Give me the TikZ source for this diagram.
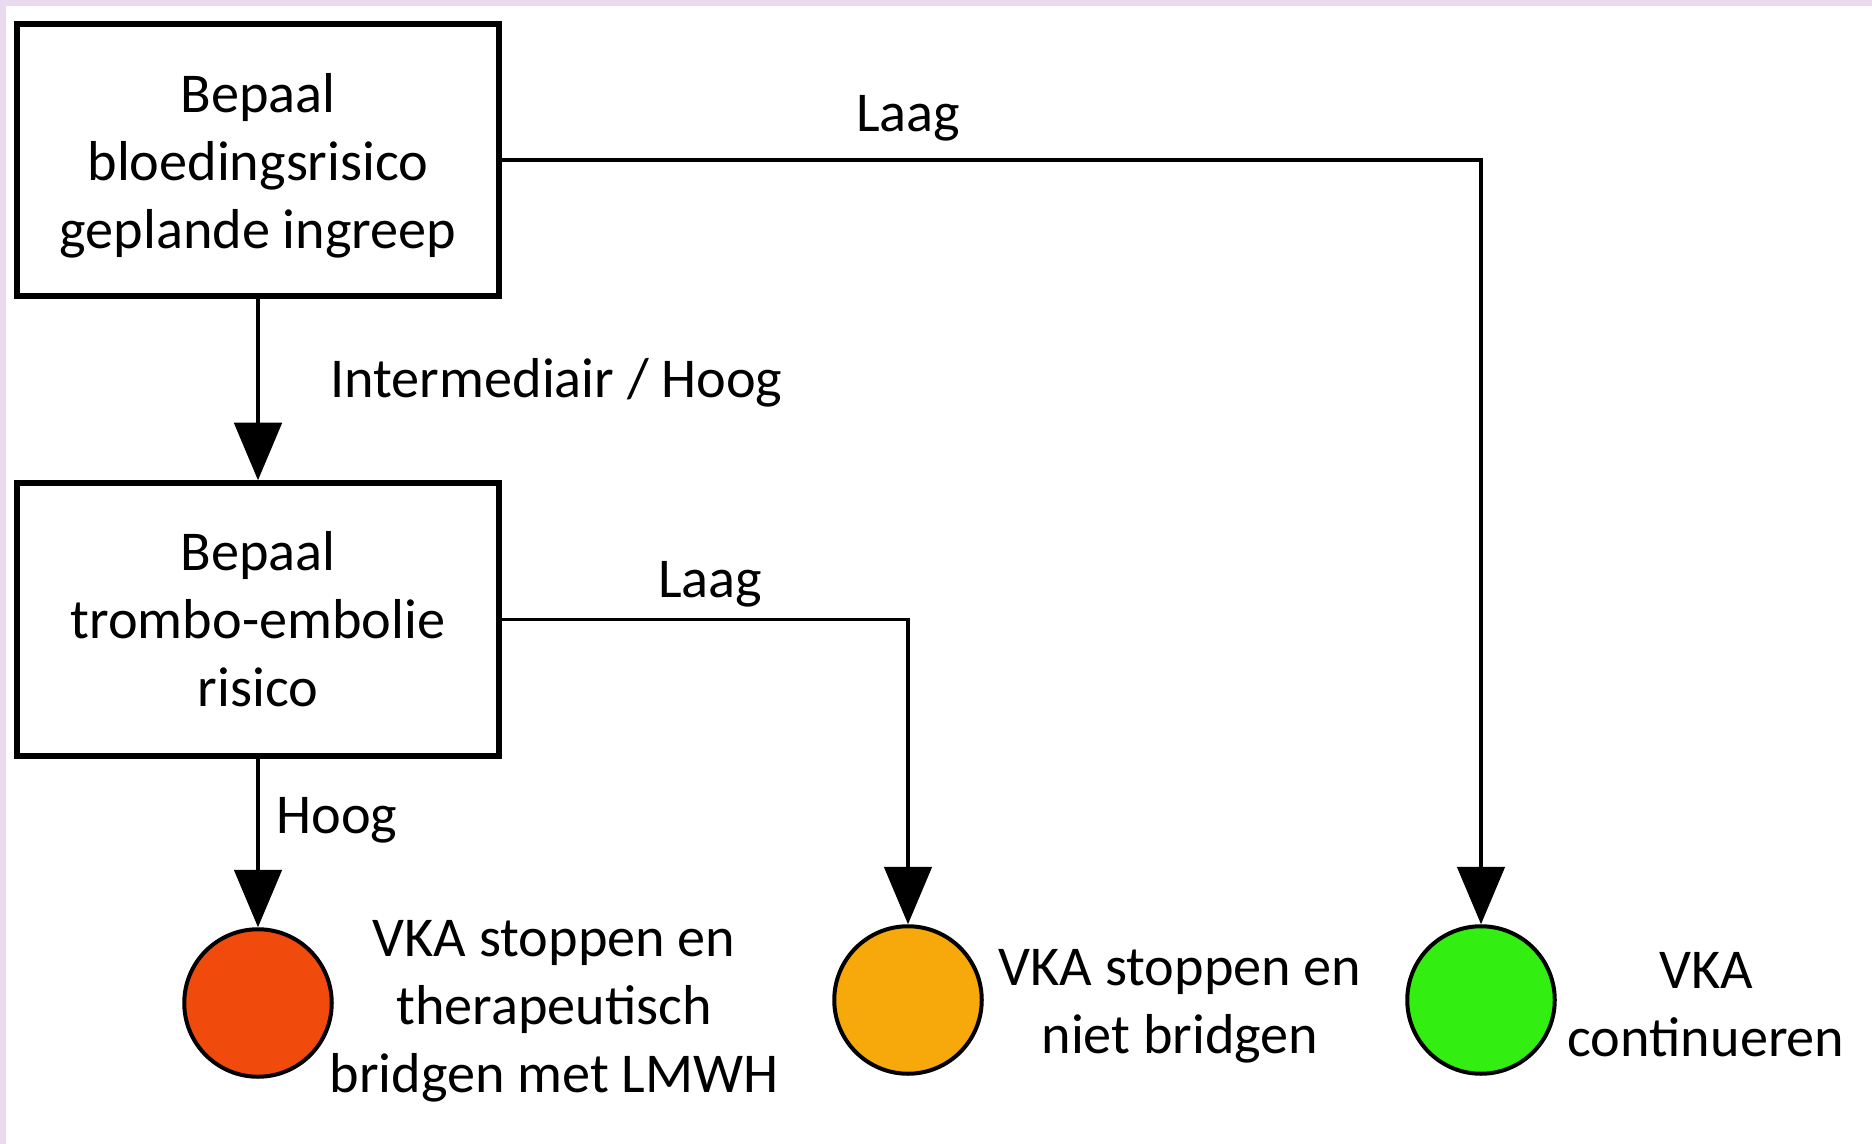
\documentclass[tikz,border=0pt]{standalone}
\usepackage{fontspec}
\setmainfont{Carlito}
\usetikzlibrary{arrows.meta}
\definecolor{redc}{RGB}{240,75,12}
\definecolor{orangec}{RGB}{247,168,11}
\definecolor{greenc}{RGB}{51,238,17}
\definecolor{stripc}{RGB}{234,218,240}
\begin{document}
\begin{tikzpicture}[x=0.4pt,y=-0.4pt,
  every node/.style={font=\fontsize{22.5}{27.2}\selectfont, text=black},
  box/.style={draw, line width=2.4pt, minimum width=193pt, minimum height=109pt, inner sep=0pt},
  dot/.style={circle, draw, line width=1.6pt, minimum size=59pt, inner sep=0pt},
  conn/.style={line width=1.4pt, -{Triangle[width=19pt,length=23pt]}},
  lbl/.style={align=center, inner sep=0pt}]
\useasboundingbox (0,0) rectangle (1872,1144);
\fill[white] (0,0) rectangle (1872,1144);
\fill[stripc] (0,0) rectangle (1872,6);
\fill[stripc] (0,0) rectangle (6,1144);

\node[box] (b1) at (258,160) {};
\node[lbl] (b1t) at (258,166) {Bepaal\\bloedingsrisico\\geplande ingreep};
\node[box] (b2) at (258,619.5) {};
\node[lbl] (b2t) at (258,619) {Bepaal\\trombo-embolie\\risico};

\node[dot, fill=redc] (red) at (258,1003) {};
\node[dot, fill=orangec] (orange) at (908,1000) {};
\node[dot, fill=greenc] (green) at (1481,1000) {};

\draw[conn] (b1.south) -- (b2.north);
\draw[conn] (b1.east) -| (green.north);
\draw[conn] (b2.east) -| (orange.north);
\draw[conn] (b2.south) -- (red.north);

\node[lbl] (l1) at (908,118) {Laag};
\node[lbl, anchor=west] (l2) at (330,383) {Intermediair / Hoog};
\node[lbl] (l3) at (710,584) {Laag};
\node[lbl, anchor=west] (l4) at (276,820) {Hoog};

\node[lbl] (t1) at (554,1011) {VKA stoppen en\\therapeutisch\\bridgen met LMWH};
\node[lbl] (t2) at (1180,1006) {VKA stoppen en\\niet bridgen};
\node[lbl] (t3) at (1706,1005) {VKA\\continueren};
\end{tikzpicture}
\end{document}
